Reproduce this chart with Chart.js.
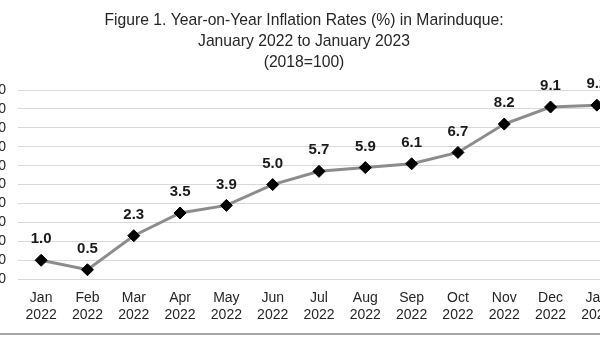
<!DOCTYPE html>
<html>
<head>
<meta charset="utf-8">
<script src="https://cdn.jsdelivr.net/npm/chart.js@4.4.0/dist/chart.umd.min.js"></script>
<style>
  html, body { margin: 0; padding: 0; background: #fff; overflow: hidden; }
  #wrap { position: relative; width: 600px; height: 337px; overflow: hidden; background: #fff; }
  #chartInflation { position: absolute; left: -119px; top: 0; }
  #frameLine { position: absolute; left: 0; top: 333px; width: 600px; height: 0; border-top: 2px solid #a6a6a6; }
</style>
</head>
<body>
<div id="wrap">
  <canvas id="chartInflation" width="760" height="337"></canvas>
  <div id="frameLine"></div>
</div>
<script>
/* ── Données ── */
var MONTHS = ['Jan', 'Feb', 'Mar', 'Apr', 'May', 'Jun', 'Jul', 'Aug', 'Sep', 'Oct', 'Nov', 'Dec', 'Jan'];
var YEARS  = ['2022', '2022', '2022', '2022', '2022', '2022', '2022', '2022', '2022', '2022', '2022', '2022', '2023'];
var RATES  = [1.0, 0.5, 2.3, 3.5, 3.9, 5.0, 5.7, 5.9, 6.1, 6.7, 8.2, 9.1, 9.2];
var TITLE_LINES = [
  'Figure 1. Year-on-Year Inflation Rates (%) in Marinduque:',
  'January 2022 to January 2023',
  '(2018=100)'
];

var FONT = '"Liberation Sans", Arial, sans-serif';

// étiquettes de valeur au-dessus des points
var valueLabels = {
  id: 'valueLabels',
  afterDatasetsDraw: function(chart) {
    var ctx = chart.ctx;
    var meta = chart.getDatasetMeta(0);
    ctx.save();
    ctx.font = 'bold 15px ' + FONT;
    ctx.fillStyle = '#1a1a1a';
    ctx.textAlign = 'center';
    ctx.textBaseline = 'middle';
    meta.data.forEach(function(pt, i) {
      ctx.fillText(RATES[i].toFixed(1), pt.x, pt.y - 21);
    });
    ctx.restore();
  }
};

var ctx = document.getElementById('chartInflation');
new Chart(ctx, {
  type: 'line',
  data: {
    labels: MONTHS.map(function(m, i) { return [m, YEARS[i]]; }),
    datasets: [{
      data: RATES,
      borderColor: '#8c8c8c',
      borderWidth: 3,
      tension: 0,
      pointStyle: 'rectRot',
      pointRadius: 6,
      pointHoverRadius: 6,
      pointBackgroundColor: '#000',
      pointBorderColor: '#000',
      pointBorderWidth: 1,
      clip: false
    }]
  },
  options: {
    responsive: false,
    animation: false,
    layout: { padding: { left: 107, right: 21, top: 0, bottom: 3 } },
    plugins: {
      legend: { display: false },
      tooltip: { enabled: false },
      title: {
        display: true,
        text: TITLE_LINES,
        color: '#262626',
        font: { family: FONT, size: 15.7, weight: 'normal', lineHeight: '21px' },
        padding: { top: 10.5, bottom: 16.5 }
      }
    },
    scales: {
      x: {
        offset: true,
        grid: { display: false, drawTicks: false },
        border: { display: false },
        ticks: {
          color: '#262626',
          padding: 10.6,
          maxRotation: 0,
          autoSkip: false,
          font: { family: FONT, size: 14, lineHeight: 1.2 }
        }
      },
      y: {
        min: 0,
        max: 10,
        afterFit: function(scale) { scale.width = 30; },
        grid: { color: '#d9d9d9', lineWidth: 1, drawTicks: false },
        border: { display: false },
        ticks: {
          stepSize: 1,
          autoSkip: false,
          padding: 12,
          color: '#262626',
          font: { family: FONT, size: 14 },
          callback: function(v) { return v.toFixed(1); }
        }
      }
    }
  },
  plugins: [valueLabels]
});
</script>
</body>
</html>
